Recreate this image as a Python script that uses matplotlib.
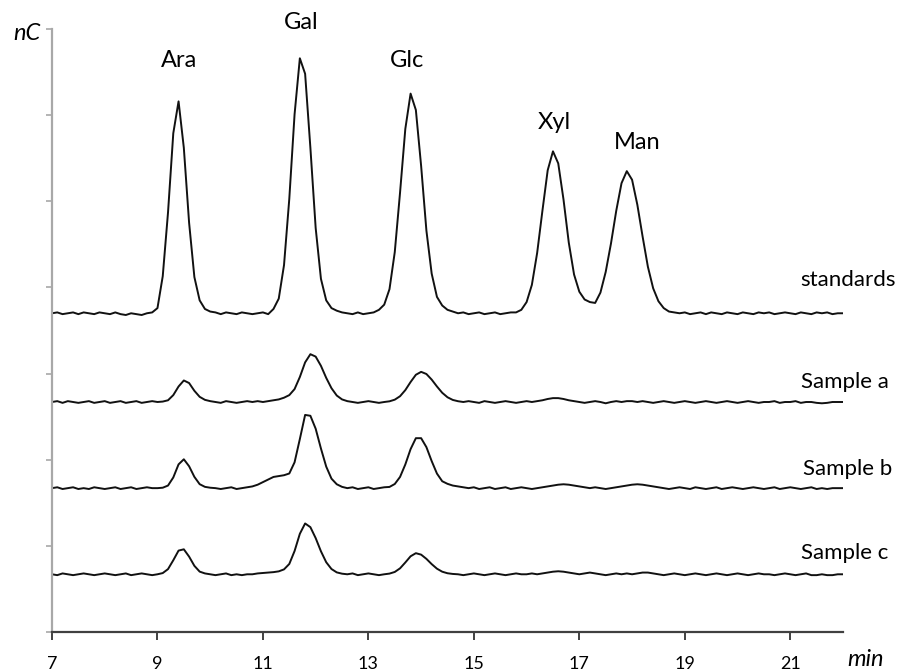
#!/usr/bin/env python3

import numpy as np
import matplotlib
matplotlib.use("Agg")
import matplotlib.pyplot as plt

plt.rcParams["font.family"] = ["Lato", "DejaVu Sans"]

# retention time grid, 7.0 .. 22.0 min every 0.1 min
time_min = np.round(np.arange(70, 221) / 10.0, 1)

# detector signal above each trace's own baseline
standards = [
    0.00, 0.01, -0.01, 0.00, 0.01, -0.01, 0.01, 0.00, -0.01, 0.01,   # 7
    0.00, -0.01, 0.01, -0.01, -0.02, 0.00, -0.01, -0.02, 0.00, 0.01,  # 8
    0.06, 0.43, 1.17, 2.09, 2.46, 1.92, 1.05, 0.42, 0.15, 0.05,      # 9
    0.02, 0.01, -0.01, 0.01, 0.00, -0.01, 0.01, 0.00, -0.01, 0.00,   # 10
    0.01, -0.01, 0.05, 0.17, 0.56, 1.33, 2.31, 2.96, 2.78, 1.92,     # 11
    0.99, 0.40, 0.15, 0.06, 0.03, 0.01, 0.00, -0.01, 0.01, -0.01,    # 12
    0.00, 0.01, 0.04, 0.10, 0.28, 0.71, 1.40, 2.14, 2.55, 2.36,      # 13
    1.71, 0.96, 0.46, 0.19, 0.09, 0.04, 0.02, 0.00, 0.01, -0.01,     # 14
    0.00, 0.01, -0.01, 0.00, 0.01, -0.01, 0.00, 0.01, 0.01, 0.04,    # 15
    0.13, 0.33, 0.70, 1.19, 1.66, 1.88, 1.74, 1.32, 0.82, 0.45,      # 16
    0.25, 0.16, 0.13, 0.12, 0.24, 0.48, 0.81, 1.19, 1.51, 1.65,      # 17
    1.55, 1.26, 0.89, 0.54, 0.29, 0.14, 0.06, 0.02, 0.01, 0.00,      # 18
    0.01, -0.01, 0.00, 0.01, -0.01, 0.01, 0.00, -0.01, 0.01, 0.00,   # 19
    -0.01, 0.01, 0.00, -0.01, 0.01, 0.00, 0.01, -0.01, 0.00, 0.01,   # 20
    0.00, -0.01, 0.01, 0.00, -0.01, 0.01, 0.00, 0.01, -0.01, 0.00,   # 21
    0.00,
]

sample_a = [
    0.00, 0.01, -0.01, 0.01, 0.00, -0.01, 0.00, 0.01, -0.01, 0.00,
    0.01, -0.01, 0.00, 0.01, -0.01, 0.00, 0.01, -0.01, 0.00, 0.01,
    0.00, 0.005, 0.02, 0.08, 0.18, 0.25, 0.22, 0.13, 0.06, 0.025,
    0.01, 0.00, -0.01, 0.01, 0.00, -0.01, 0.00, 0.01, 0.00, 0.01,
    0.00, 0.01, 0.02, 0.03, 0.05, 0.08, 0.15, 0.29, 0.46, 0.555,
    0.527, 0.42, 0.28, 0.16, 0.075, 0.03, 0.01, 0.00, -0.01, 0.00,
    0.01, 0.00, -0.01, 0.00, 0.008, 0.027, 0.067, 0.138, 0.232, 0.316,
    0.35, 0.325, 0.26, 0.18, 0.107, 0.055, 0.024, 0.009, 0.00, 0.01,
    0.00, -0.01, 0.01, 0.00, -0.01, 0.00, 0.01, 0.00, -0.01, 0.00,
    0.01, 0.00, 0.01, 0.02, 0.035, 0.045, 0.045, 0.035, 0.02, 0.01,
    0.00, -0.01, 0.00, 0.01, 0.00, -0.015, 0.00, 0.01, 0.00, 0.01,
    0.01, 0.00, 0.01, 0.00, -0.01, 0.00, 0.01, 0.00, -0.01, 0.00,
    0.01, 0.00, -0.01, 0.00, 0.01, 0.00, -0.01, 0.00, 0.01, 0.00,
    -0.01, 0.00, 0.01, 0.00, -0.01, 0.00, 0.00, 0.01, -0.01, 0.00,
    0.00, 0.01, -0.01, 0.00, 0.00, -0.01, -0.015, -0.01, 0.00, 0.00,
    0.00,
]

sample_b = [
    0.00, 0.01, -0.01, 0.00, 0.01, -0.01, 0.00, -0.01, 0.01, 0.00,
    -0.01, 0.00, 0.01, -0.01, 0.00, 0.01, -0.01, 0.00, 0.01, 0.00,
    0.00, 0.005, 0.03, 0.124, 0.276, 0.335, 0.254, 0.131, 0.046, 0.015,
    0.005, 0.00, -0.01, 0.00, 0.01, -0.01, 0.00, 0.01, 0.02, 0.04,
    0.07, 0.10, 0.13, 0.14, 0.15, 0.17, 0.30, 0.57, 0.85, 0.84,
    0.69, 0.46, 0.25, 0.11, 0.045, 0.015, 0.00, 0.01, -0.01, 0.00,
    0.01, -0.01, 0.00, 0.01, 0.014, 0.048, 0.13, 0.275, 0.453, 0.58,
    0.58, 0.476, 0.314, 0.169, 0.08, 0.05, 0.03, 0.02, 0.01, 0.00,
    0.01, -0.01, 0.00, 0.01, -0.01, 0.00, 0.01, -0.01, 0.00, 0.01,
    0.00, -0.01, 0.00, 0.01, 0.02, 0.03, 0.04, 0.045, 0.04, 0.03,
    0.02, 0.01, 0.00, 0.01, 0.00, -0.01, 0.00, 0.01, 0.02, 0.03,
    0.04, 0.045, 0.04, 0.03, 0.02, 0.01, 0.00, -0.01, 0.00, 0.01,
    0.00, -0.01, 0.01, 0.00, -0.01, 0.00, 0.01, -0.01, 0.00, 0.01,
    0.00, -0.01, 0.00, 0.01, 0.00, -0.01, 0.00, 0.01, -0.01, 0.00,
    0.01, 0.00, -0.01, 0.00, 0.01, -0.01, 0.00, -0.01, 0.00, 0.00,
    0.00,
]

sample_c = [
    0.00, -0.01, 0.01, 0.00, -0.01, 0.00, 0.01, 0.00, -0.01, 0.00,
    0.01, 0.00, -0.01, 0.00, 0.01, -0.01, 0.00, 0.01, 0.00, -0.01,
    0.00, 0.014, 0.06, 0.163, 0.275, 0.29, 0.205, 0.098, 0.031, 0.01,
    0.00, -0.01, 0.00, 0.01, -0.01, 0.00, -0.01, 0.00, 0.00, 0.01,
    0.015, 0.02, 0.025, 0.034, 0.057, 0.12, 0.27, 0.47, 0.59, 0.547,
    0.42, 0.267, 0.14, 0.061, 0.022, 0.007, 0.00, 0.01, -0.01, 0.00,
    0.01, 0.00, -0.01, 0.00, 0.008, 0.027, 0.069, 0.137, 0.209, 0.245,
    0.228, 0.179, 0.118, 0.065, 0.03, 0.012, 0.004, 0.00, -0.01, 0.00,
    0.01, 0.00, -0.01, 0.00, 0.01, 0.00, -0.01, 0.00, 0.01, 0.00,
    0.00, 0.01, 0.00, 0.01, 0.02, 0.03, 0.035, 0.03, 0.02, 0.01,
    0.00, 0.01, 0.02, 0.01, 0.00, -0.01, 0.00, 0.01, 0.00, 0.01,
    0.00, 0.01, 0.02, 0.02, 0.01, 0.00, -0.01, 0.00, 0.01, 0.00,
    -0.01, 0.00, 0.01, 0.00, -0.01, 0.00, 0.01, 0.00, -0.01, 0.00,
    0.01, 0.00, -0.01, 0.00, 0.01, 0.00, 0.00, -0.01, 0.00, 0.01,
    0.00, -0.01, 0.00, 0.01, -0.01, -0.01, 0.00, -0.01, -0.01, 0.00,
    0.00,
]

trace_names = ["standards", "Sample a", "Sample b", "Sample c"]
peak_names = ["Ara", "Gal", "Glc", "Xyl", "Man"]
x_ticks = [7, 9, 11, 13, 15, 17, 19, 21]


def main():
    fig = plt.figure(figsize=(9.02, 6.72), dpi=100)
    ax = fig.add_axes([52 / 902, 40 / 672, 791 / 902, 603 / 672])

    # stack the chromatograms
    traces = [standards, sample_a, sample_b, sample_c]
    offsets = [3.70, 2.67, 1.67, 0.67]
    for sig, off in zip(traces, offsets):
        ax.plot(time_min, np.array(sig) + off, color="#111111", lw=1.4)

    # trace labels on the right
    label_pos = [(21.19, 4.09), (21.20, 2.90), (21.24, 1.89), (21.20, 0.92)]
    for name, (x, y) in zip(trace_names, label_pos):
        ax.text(x, y, name, fontsize=16, ha="left", va="center")

    # peak labels above the standards
    peak_pos = [(9.41, 6.64), (11.72, 7.07), (13.73, 6.64), (16.52, 5.92), (18.09, 5.68)]
    for name, (x, y) in zip(peak_names, peak_pos):
        ax.text(x, y, name, fontsize=17, ha="center", va="center")

    ax.set_xlim(7, 22)
    ax.set_ylim(0, 7)
    ax.set_xticks(x_ticks)
    ax.set_yticks(range(8))
    ax.set_yticklabels([])

    for side in ("top", "right"):
        ax.spines[side].set_visible(False)
    ax.spines["left"].set_color("#a8a8a8")
    ax.spines["left"].set_linewidth(1.6)
    ax.spines["bottom"].set_color("#404040")
    ax.spines["bottom"].set_linewidth(1.6)
    ax.tick_params(axis="y", direction="out", length=4, width=1.2, colors="#a8a8a8")
    ax.tick_params(axis="x", direction="out", length=6, width=1.4, color="#404040",
                   labelsize=13, pad=11, labelcolor="black")

    fig.text(27 / 902, 1 - 33 / 672, "nC", fontsize=17, style="italic", ha="center", va="center")
    fig.text(866 / 902, 1 - 660 / 672, "min", fontsize=17, style="italic", ha="center", va="center")

    fig.savefig("out.png", dpi=100)


if __name__ == "__main__":
    main()
